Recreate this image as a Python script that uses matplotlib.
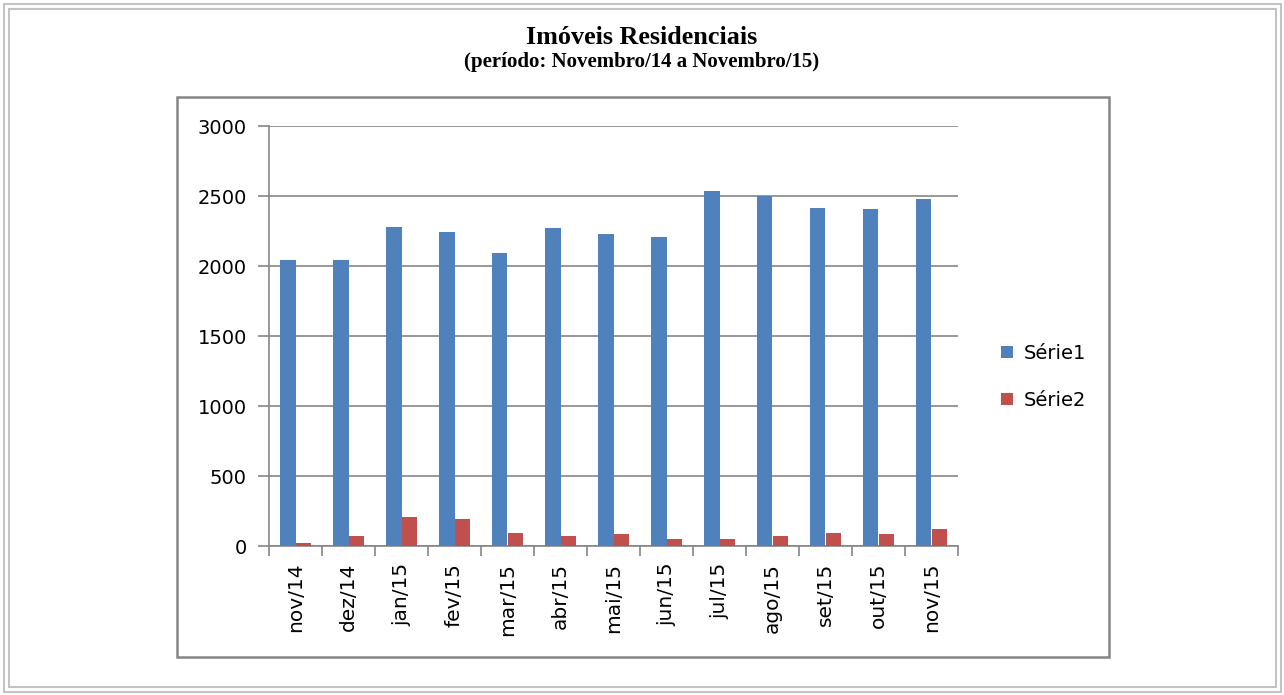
import matplotlib
matplotlib.use("Agg")
import matplotlib.pyplot as plt
from matplotlib.patches import Rectangle
import numpy as np

categories = ["nov/14", "dez/14", "jan/15", "fev/15", "mar/15", "abr/15", "mai/15",
              "jun/15", "jul/15", "ago/15", "set/15", "out/15", "nov/15"]
serie1 = [2045, 2045, 2282, 2240, 2096, 2268, 2232, 2204, 2536, 2500, 2414, 2407, 2479]
serie2 = [20, 75, 205, 190, 95, 75, 85, 50, 50, 75, 95, 85, 125]
series_names = ["Série1", "Série2"]
yticks = [0, 500, 1000, 1500, 2000, 2500, 3000]

W, H = 1284, 695
fig = plt.figure(figsize=(W / 100, H / 100), dpi=100)
fig.patch.set_facecolor("white")

# outer double border
for off in (3.5, 8.5):
    fig.patches.append(Rectangle((off / W, off / H), 1 - 2 * off / W, 1 - 2 * off / H,
                                 transform=fig.transFigure, fill=False,
                                 edgecolor="#c3c3c3", linewidth=1.5))
# inner chart frame
fig.patches.append(Rectangle((177 / W, 1 - 657 / H), (1109 - 177) / W, (657 - 97) / H,
                             transform=fig.transFigure, fill=False,
                             edgecolor="#858585", linewidth=1.8))

ax = fig.add_axes([269 / W, 1 - 546 / H, (958 - 269) / W, (546 - 126) / H])
x = np.arange(len(categories))
bw = 0.286
b1 = ax.bar(x - bw / 2, serie1, width=bw, color="#4f81bd", label=series_names[0], zorder=3)
b2 = ax.bar(x + bw / 2, serie2, width=bw, color="#c0504d", label=series_names[1], zorder=3)

ax.set_xlim(-0.5, len(categories) - 0.5)
ax.set_ylim(0, 3000)
ax.set_yticks(yticks)
ax.set_yticklabels([str(v) for v in yticks], fontsize=14, family="DejaVu Sans")
ax.yaxis.grid(True, color="#868686", linewidth=1.2, zorder=0)
ax.set_axisbelow(True)

ax.set_xticks(x)
ax.set_xticklabels(categories, rotation=90, fontsize=14.5, family="DejaVu Sans")
ax.tick_params(axis="x", length=0, pad=12)
ax.set_xticks(np.arange(-0.5, len(categories), 1.0), minor=True)
ax.tick_params(axis="x", which="minor", length=7, width=1.2, color="#868686")
ax.tick_params(axis="y", length=8, width=1.2, color="#868686", pad=8)

for s in ["top", "right"]:
    ax.spines[s].set_visible(False)
for s in ["left", "bottom"]:
    ax.spines[s].set_color("#868686")
    ax.spines[s].set_linewidth(1.2)

leg = fig.legend(handles=[b1, b2], labels=series_names, loc="center left",
                 bbox_to_anchor=(983 / W, 1 - 377 / H), frameon=False,
                 prop={"family": "DejaVu Sans", "size": 14}, handlelength=0.65,
                 handleheight=0.6, labelspacing=1.45, handletextpad=0.55)

fig.text(0.5, 1 - 38 / H, "Imóveis Residenciais", ha="center", va="center",
         family="Liberation Serif", fontweight="bold", fontsize=18.8)
fig.text(0.5, 1 - 62 / H, "(período: Novembro/14 a Novembro/15)", ha="center", va="center",
         family="Liberation Serif", fontweight="bold", fontsize=15)

fig.savefig("out.png", dpi=100)
